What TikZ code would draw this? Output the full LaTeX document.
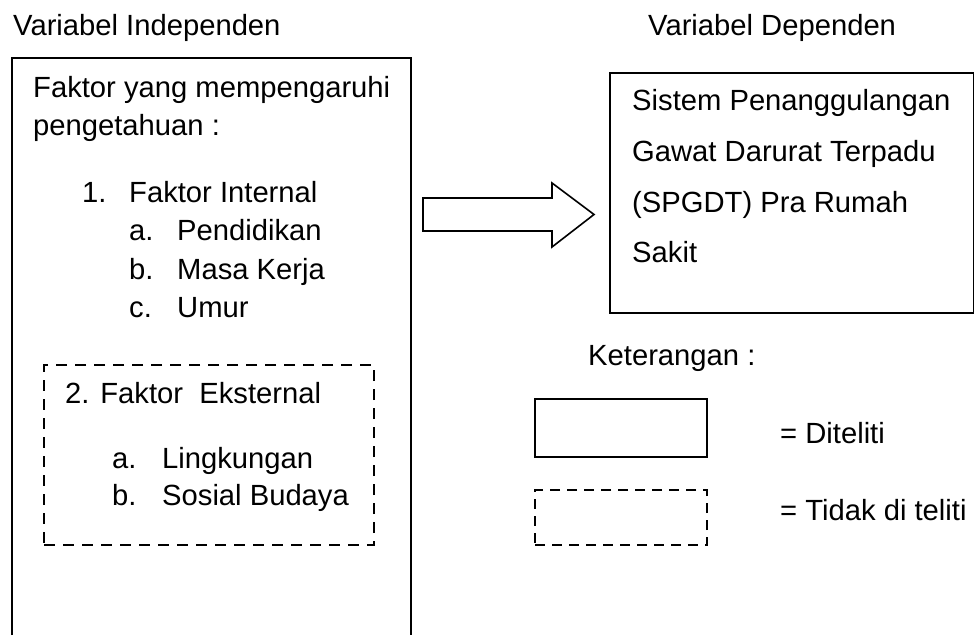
\documentclass[tikz,border=0pt]{standalone}
\usepackage{fontspec}
\setmainfont{Liberation Sans}
\begin{document}
\begin{tikzpicture}[x=1pt,y=-1pt,
  txt/.style={anchor=base west, inner sep=0pt, font=\fontsize{29.2}{35}\selectfont},
  solidline/.style={draw, line width=1.6pt},
  dashline/.style={draw, line width=2.4pt, dash pattern=on 11pt off 8pt},
  boxnode/.style={rectangle, anchor=north west, inner sep=0pt}]
\useasboundingbox (0,0) rectangle (974,635);

% headings
\node[txt] (hind) at (13,35) {Variabel Independen};
\node[txt] (hdep) at (648,35) {Variabel Dependen};

% left (independent) box, open at the bottom
\coordinate (lbl) at (12,635);
\coordinate (ltl) at (12,58);
\coordinate (ltr) at (411,58);
\coordinate (lbr) at (411,635);
\draw[solidline] (lbl) -- (ltl) -- (ltr) -- (lbr);

\node[txt] (t1) at (33,97) {Faktor yang mempengaruhi};
\node[txt] (t2) at (33,135) {pengetahuan :};
\node[txt] (n1) at (82,202) {1.};
\node[txt] (t3) at (129,202) {Faktor Internal};
\node[txt] (la) at (129,240) {a.};
\node[txt] (t4) at (177,240) {Pendidikan};
\node[txt] (lb) at (129,279) {b.};
\node[txt] (t5) at (177,279) {Masa Kerja};
\node[txt] (lc) at (129,317) {c.};
\node[txt] (t6) at (177,317) {Umur};

% dashed (external) box
\node[boxnode, dashline, minimum width=330pt, minimum height=180pt] (ext) at (43,364) {};
\node[txt] (t7) at (65,403) {2. Faktor~~Eksternal};
\node[txt] (ea) at (112,468) {a.};
\node[txt] (t8) at (162,468) {Lingkungan};
\node[txt] (eb) at (112,505) {b.};
\node[txt] (t9) at (162,505) {Sosial Budaya};

% block arrow
\draw[solidline, line join=miter] (423,198) -- (552,198) -- (552,183) -- (594,214.5)
  -- (552,247) -- (552,231) -- (423,231) -- cycle;

% dependent box
\node[boxnode, solidline, minimum width=364pt, minimum height=240pt] (dep) at (609,72) {};
\node[txt] (d1) at (632,110) {Sistem Penanggulangan};
\node[txt] (d2) at (632,161) {Gawat Darurat Terpadu};
\node[txt] (d3) at (632,212) {(SPGDT) Pra Rumah};
\node[txt] (d4) at (632,262) {Sakit};

% legend
\node[txt] (ket) at (588,365) {Keterangan :};
\node[boxnode, solidline, minimum width=172pt, minimum height=58pt] (lg1) at (534,398) {};
\node[txt] (lt1) at (780,443) {= Diteliti};
\node[boxnode, dashline, dash pattern=on 10pt off 7pt, minimum width=172pt, minimum height=55pt] (lg2) at (534,489) {};
\node[txt] (lt2) at (780,520) {= Tidak di teliti};
\end{tikzpicture}
\end{document}
